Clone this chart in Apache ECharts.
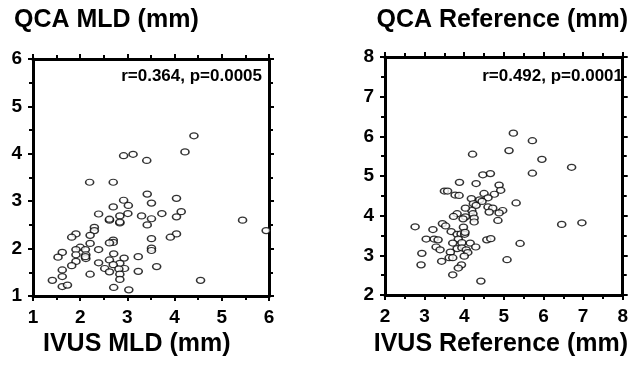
<!DOCTYPE html>
<html>
<head>
<meta charset="utf-8">
<script src="https://cdn.jsdelivr.net/npm/echarts@6/dist/echarts.min.js"></script>
<style>
  html, body { margin: 0; padding: 0; background: #fff; }
  #wrap { position: relative; width: 631px; height: 374px; }
  #left { position: absolute; left: 0; top: 0; width: 316px; height: 374px; }
  #right { position: absolute; left: 316px; top: 0; width: 315px; height: 374px; }
</style>
</head>
<body>
<div id="wrap"><div id="left"></div><div id="right"></div></div>
<script>
// left panel: IVUS MLD (x) vs QCA MLD (y)
const mldIvus = [4.41, 4.22, 2.92, 3.12, 3.41, 2.20, 2.70, 3.42, 4.04, 2.92, 3.02, 3.51, 2.70, 2.39, 3.01,
  2.84, 3.30, 3.73, 4.14, 4.04, 2.62, 3.51, 2.84, 3.42, 2.30, 2.30, 1.91, 1.82, 2.21, 4.04,
  3.91, 5.44, 5.94, 2.70, 2.70, 2.62, 3.51, 2.21, 2.00, 1.91, 2.11, 2.39, 3.51, 3.51, 1.62,
  1.91, 2.12, 1.53, 2.12, 2.71, 2.93, 3.23, 1.91, 2.62, 2.39, 2.84, 1.82, 2.70, 2.52, 2.62,
  2.94, 3.62, 2.82, 1.62, 3.23, 2.21, 1.62, 2.84, 2.84, 1.41, 4.55, 1.62, 1.73, 2.71, 3.03,
  2.62, 2.84, 2.11];
const mldQca = [4.38, 4.04, 3.96, 3.99, 3.86, 3.40, 3.40, 3.15, 3.06, 3.02, 2.91, 2.96, 2.88, 2.73, 2.74,
  2.69, 2.69, 2.74, 2.78, 2.67, 2.60, 2.63, 2.54, 2.50, 2.45, 2.38, 2.31, 2.24, 2.28, 2.31,
  2.24, 2.60, 2.38, 2.18, 2.13, 2.12, 2.21, 2.11, 2.03, 1.98, 1.98, 1.98, 2.01, 1.96, 1.92,
  1.87, 1.87, 1.82, 1.79, 1.89, 1.80, 1.83, 1.73, 1.76, 1.70, 1.69, 1.64, 1.66, 1.58, 1.51,
  1.58, 1.62, 1.57, 1.55, 1.52, 1.46, 1.41, 1.46, 1.35, 1.33, 1.33, 1.20, 1.23, 1.18, 1.13,
  2.62, 2.56, 1.83];

// right panel: IVUS reference (x) vs QCA reference (y)
const refIvus = [5.24, 5.72, 5.13, 4.21, 5.96, 6.71, 5.72, 4.47, 4.66, 3.88, 4.30, 3.50, 3.58, 3.77, 3.87,
  4.50, 4.76, 4.88, 4.92, 4.18, 4.60, 4.39, 4.23, 4.30, 5.31, 4.60, 4.72, 4.63, 4.97, 4.88,
  4.85, 4.19, 4.22, 4.03, 3.82, 3.73, 4.03, 3.97, 4.25, 4.25, 6.46, 6.97, 2.76, 3.45, 3.53,
  3.21, 3.67, 3.98, 3.04, 3.24, 3.34, 3.82, 3.92, 4.01, 3.85, 3.94, 4.15, 4.57, 4.67, 5.41,
  3.29, 3.39, 3.82, 3.94, 4.05, 4.29, 2.93, 3.65, 4.09, 4.00, 3.62, 3.71, 3.43, 5.08, 2.91,
  3.93, 3.85, 3.71, 4.42, 4.02, 3.71, 4.45];
const refQca = [6.08, 5.89, 5.64, 5.55, 5.42, 5.22, 5.07, 5.03, 5.06, 4.84, 4.81, 4.62, 4.62, 4.52, 4.51,
  4.56, 4.54, 4.77, 4.64, 4.43, 4.45, 4.40, 4.30, 4.26, 4.32, 4.22, 4.19, 4.09, 4.13, 4.07,
  3.88, 4.13, 4.05, 4.19, 4.05, 3.98, 3.97, 3.92, 3.94, 3.84, 3.78, 3.82, 3.72, 3.80, 3.74,
  3.65, 3.60, 3.71, 3.41, 3.41, 3.39, 3.53, 3.54, 3.53, 3.41, 3.32, 3.31, 3.39, 3.42, 3.30,
  3.21, 3.14, 3.17, 3.19, 3.14, 3.21, 3.05, 3.08, 3.07, 2.98, 2.94, 2.94, 2.85, 2.89, 2.76,
  2.76, 2.68, 2.51, 2.35, 3.58, 3.31, 4.36];

const mldRange = [1, 6];
const refRange = [2, 8];
const titles = ['QCA MLD (mm)', 'QCA Reference (mm)', 'IVUS MLD (mm)', 'IVUS Reference (mm)'];
const stats = ['r=0.364, p=0.0005', 'r=0.492, p=0.0001'];

const font = 'Arial, "Liberation Sans", Helvetica, sans-serif';

function axis(range, position, labels, margin) {
  return {
    type: 'value',
    position: position,
    min: range[0],
    max: range[1],
    interval: 1,
    axisLine: { show: true, onZero: false, lineStyle: { color: '#000', width: 3 } },
    axisTick: { show: true, length: 5, lineStyle: { color: '#000', width: 2 } },
    minorTick: { show: true, splitNumber: 2, length: 4, lineStyle: { color: '#000', width: 2 } },
    splitLine: { show: false },
    axisLabel: {
      show: labels,
      color: '#000',
      fontFamily: font,
      fontWeight: 'bold',
      fontSize: 19,
      margin: margin
    }
  };
}

function text(t, pos, size) {
  return Object.assign({
    text: t,
    padding: 0,
    textStyle: { color: '#000', fontFamily: font, fontWeight: 'bold', fontSize: size }
  }, pos);
}

// one chart per panel
function panel(dom, xs, ys, range, grid, heads) {
  const chart = echarts.init(dom);
  chart.setOption({
    animation: false,
    title: heads,
    grid: grid,
    xAxis: [axis(range, 'bottom', true, 12), axis(range, 'top', false, 8)],
    yAxis: [axis(range, 'left', true, 11), axis(range, 'right', false, 8)],
    series: [{
      type: 'scatter',
      symbol: 'circle',
      symbolSize: [8, 6],
      itemStyle: { color: '#fff', borderColor: '#000', borderWidth: 1.4 },
      data: xs.map((x, i) => [x, ys[i]])
    }]
  });
}

panel(document.getElementById('left'), mldIvus, mldQca, mldRange,
  { left: 33, top: 59, width: 236, height: 237 },
  [
    text(titles[0], { left: 14, top: 8 }, 25),
    text(titles[2], { left: 43, top: 332 }, 25),
    text(stats[0], { right: 54, top: 68 }, 17)
  ]);

panel(document.getElementById('right'), refIvus, refQca, refRange,
  { left: 69, top: 57, width: 240, height: 238 },
  [
    text(titles[1], { right: 3, top: 8 }, 25),
    text(titles[3], { right: 3, top: 332 }, 25),
    text(stats[1], { right: 8, top: 68 }, 17)
  ]);
</script>
</body>
</html>
